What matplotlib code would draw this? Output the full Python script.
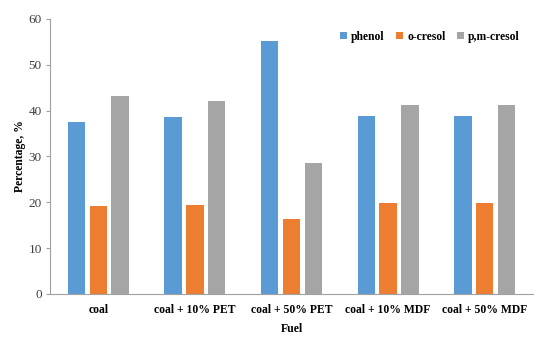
import numpy as np
from matplotlib import pyplot as plt

fuels = ["coal", "coal + 10% PET", "coal + 50% PET", "coal + 10% MDF", "coal + 50% MDF"]
phenol = [37.5, 38.6, 55.1, 38.9, 38.9]
o_cresol = [19.2, 19.4, 16.3, 19.9, 19.9]
pm_cresol = [43.1, 42.0, 28.5, 41.2, 41.2]

plt.rcParams["font.family"] = ["Liberation Serif", "DejaVu Serif"]

fig = plt.figure(figsize=(5.5, 3.45), dpi=100)
ax = fig.add_axes([0.091, 0.148, 0.878, 0.797])

x = np.arange(len(fuels))
w = 0.18
step = 0.225
ax.bar(x - step, phenol, w, color="#5B9BD5", label="phenol")
ax.bar(x, o_cresol, w, color="#ED7D31", label="o-cresol")
ax.bar(x + step, pm_cresol, w, color="#A5A5A5", label="p,m-cresol")

ax.set_xlim(-0.5, len(fuels) - 0.5)
ax.set_ylim(0, 60)
ax.set_yticks(range(0, 61, 10))
ax.set_xticks(x)
ax.set_xticklabels(fuels, fontweight="bold", fontsize=8.4)
ax.tick_params(axis="x", length=0, pad=7)
ax.tick_params(axis="y", labelsize=9.5, labelcolor="#404040", length=3,
               direction="out", color="#A0A0A0", pad=3)
for s in ["top", "right"]:
    ax.spines[s].set_visible(False)
ax.spines["left"].set_color("#A0A0A0")
ax.spines["bottom"].set_color("#A0A0A0")

ax.set_xlabel("Fuel", fontweight="bold", fontsize=8.5, labelpad=5)
ax.set_ylabel("Percentage, %", fontweight="bold", fontsize=8.4, labelpad=2)

ax.legend(loc="upper right", bbox_to_anchor=(0.995, 0.995), ncol=3, frameon=False,
          prop={"weight": "bold", "size": 8.4}, handlelength=0.6, handleheight=0.6,
          handletextpad=0.35, columnspacing=1.0)

fig.savefig("out.png", dpi=100)
